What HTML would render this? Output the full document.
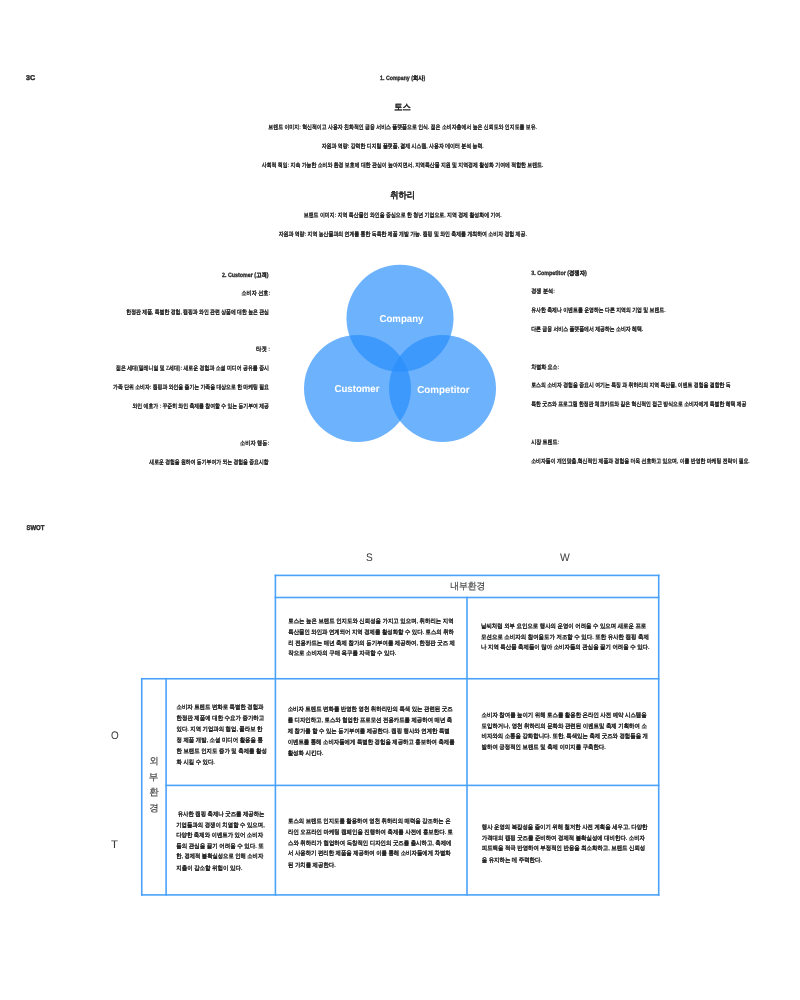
<!DOCTYPE html>
<html><head><meta charset="utf-8">
<style>
html,body{margin:0;padding:0;background:#fff;}
body{width:800px;height:1000px;position:relative;overflow:hidden;font-family:"Liberation Sans",sans-serif;}
#wrap{position:absolute;left:0;top:0;width:800px;height:1000px;will-change:transform;}
svg{position:absolute;left:0;top:0;}
text{font-family:"Liberation Sans",sans-serif;font-weight:bold;text-rendering:geometricPrecision;fill:#2a2a2a;stroke:#2a2a2a;stroke-width:0.03px;}
text.g{font-weight:normal;fill:#3c3c3c;stroke:#3c3c3c;}
text.w{fill:#fff;stroke:#fff;}
</style></head><body>
<div id="wrap">
<svg width="800" height="1000" viewBox="0 0 800 1000">
<circle cx="400" cy="318.25" r="53.5" fill="rgba(40,142,252,0.68)"/>
<circle cx="357.5" cy="388.5" r="53.5" fill="rgba(40,142,252,0.68)"/>
<circle cx="442.5" cy="388.5" r="53.5" fill="rgba(40,142,252,0.68)"/>
<g fill="#4aa2fb">
<rect x="274.6" y="574.6" width="384.9" height="1.6"/>
<rect x="274.6" y="596.7" width="384.9" height="1.6"/>
<rect x="140.95" y="677.95" width="518.55" height="1.6"/>
<rect x="165.3" y="784.6" width="494.2" height="1.6"/>
<rect x="140.95" y="894.1" width="518.55" height="1.6"/>
<rect x="140.95" y="677.95" width="1.6" height="217.75"/>
<rect x="165.3" y="677.95" width="1.6" height="217.75"/>
<rect x="274.6" y="574.6" width="1.6" height="321.1"/>
<rect x="466.2" y="596.7" width="1.6" height="299"/>
<rect x="657.9" y="574.6" width="1.6" height="321.1"/>
</g>
<text id="c3" x="26.00" y="80.11" font-size="7.00" textLength="9.15" lengthAdjust="spacingAndGlyphs" style="stroke-width:0.41px;">3C</text>
<text id="co" x="380.11" y="79.96" font-size="6.20" textLength="45.08" lengthAdjust="spacingAndGlyphs" style="stroke-width:0.31px;">1. Company (회사)</text>
<text id="toss" x="394.16" y="109.95" font-size="9.00" textLength="16.70" lengthAdjust="spacingAndGlyphs">토스</text>
<text id="t1" x="268.35" y="129.42" font-size="6.20" textLength="268.63" lengthAdjust="spacingAndGlyphs">브랜드 이미지: 혁신적이고 사용자 친화적인 금융 서비스 플랫폼으로 인식. 젊은 소비자층에서 높은 신뢰도와 인지도를 보유.</text>
<text id="t2" x="321.69" y="148.07" font-size="6.20" textLength="162.02" lengthAdjust="spacingAndGlyphs">자원과 역량: 강력한 디지털 플랫폼, 결제 시스템, 사용자 데이터 분석 능력.</text>
<text id="t3" x="261.81" y="166.92" font-size="6.20" textLength="281.50" lengthAdjust="spacingAndGlyphs">사회적 책임: 지속 가능한 소비와 환경 보호에 대한 관심이 높아지면서, 지역특산물 지원 및 지역경제 활성화 기여에 적합한 브랜드.</text>
<text id="chi" x="390.34" y="197.94" font-size="9.20" textLength="24.76" lengthAdjust="spacingAndGlyphs">취하리</text>
<text id="c1" x="303.76" y="217.32" font-size="6.20" textLength="197.91" lengthAdjust="spacingAndGlyphs">브랜드 이미지: 지역 특산물인 와인을 중심으로 한 청년 기업으로, 지역 경제 활성화에 기여.</text>
<text id="c2" x="278.64" y="236.21" font-size="6.20" textLength="248.15" lengthAdjust="spacingAndGlyphs">자원과 역량: 지역 농산물과의 연계를 통한 독특한 제품 개발 가능. 캠핑 및 와인 축제를 개최하여 소비자 경험 제공.</text>
<text id="l0" x="222.04" y="276.79" font-size="6.20" textLength="46.58" lengthAdjust="spacingAndGlyphs" style="stroke-width:0.31px;">2. Customer (고객)</text>
<text id="l1" x="241.51" y="295.06" font-size="6.20" textLength="28.64" lengthAdjust="spacingAndGlyphs">소비자 선호:</text>
<text id="l2" x="126.37" y="313.63" font-size="6.20" textLength="142.62" lengthAdjust="spacingAndGlyphs">한정판 제품, 특별한 경험, 캠핑과 와인 관련 상품에 대한 높은 관심</text>
<text id="l3" x="256.08" y="351.01" font-size="6.20" textLength="14.01" lengthAdjust="spacingAndGlyphs">타겟 :</text>
<text id="l4" x="115.98" y="369.92" font-size="6.20" textLength="153.00" lengthAdjust="spacingAndGlyphs">젊은 세대(밀레니얼 및 Z세대): 새로운 경험과 소셜 미디어 공유를 중시</text>
<text id="l5" x="113.09" y="388.91" font-size="6.20" textLength="155.91" lengthAdjust="spacingAndGlyphs">가족 단위 소비자: 캠핑과 와인을 즐기는 가족을 대상으로 한 마케팅 필요</text>
<text id="l6" x="132.51" y="407.96" font-size="6.20" textLength="136.44" lengthAdjust="spacingAndGlyphs">와인 애호가 : 꾸준히 와인 축제를 참여할 수 있는 동기부여 제공</text>
<text id="l7" x="240.06" y="445.19" font-size="6.20" textLength="29.07" lengthAdjust="spacingAndGlyphs">소비자 행동:</text>
<text id="l8" x="149.32" y="464.15" font-size="6.20" textLength="119.31" lengthAdjust="spacingAndGlyphs">새로운 경험을 원하여 동기부여가 되는 경험을 중요시함</text>
<text id="r0" x="531.23" y="274.71" font-size="6.20" textLength="55.65" lengthAdjust="spacingAndGlyphs" style="stroke-width:0.31px;">3. Competitor (경쟁자)</text>
<text id="r1" x="531.23" y="292.96" font-size="6.20" textLength="23.65" lengthAdjust="spacingAndGlyphs">경쟁 분석:</text>
<text id="r2" x="531.23" y="312.32" font-size="6.20" textLength="134.31" lengthAdjust="spacingAndGlyphs">유사한 축제나 이벤트를 운영하는 다른 지역의 기업 및 브랜드.</text>
<text id="r3" x="531.23" y="330.98" font-size="6.20" textLength="112.00" lengthAdjust="spacingAndGlyphs">다른 금융 서비스 플랫폼에서 제공하는 소비자 혜택.</text>
<text id="r4" x="531.23" y="368.95" font-size="6.20" textLength="27.96" lengthAdjust="spacingAndGlyphs">차별화 요소:</text>
<text id="r5" x="531.23" y="387.36" font-size="6.20" textLength="199.47" lengthAdjust="spacingAndGlyphs">토스의 소비자 경험을 중요시 여기는 특징 과 취하리의 지역 특산물, 이벤트 경험을 결합한 독</text>
<text id="r6" x="531.23" y="405.97" font-size="6.20" textLength="215.21" lengthAdjust="spacingAndGlyphs">특한 굿즈와 프로그램 한정판 체크카드와 같은 혁신적인 접근 방식으로 소비자에게 특별한 혜택 제공</text>
<text id="r7" x="531.23" y="443.95" font-size="6.20" textLength="28.04" lengthAdjust="spacingAndGlyphs">시장 트렌드:</text>
<text id="r8" x="531.23" y="462.71" font-size="6.20" textLength="218.51" lengthAdjust="spacingAndGlyphs">소비자들이 개인맞춤,혁신적인 제품과 경험을 더욱 선호하고 있으며, 이를 반영한 마케팅 전략이 필요.</text>
<text id="swot" x="26.43" y="530.34" font-size="7.00" textLength="17.93" lengthAdjust="spacingAndGlyphs" style="stroke-width:0.41px;">SWOT</text>
<text id="S" x="365.96" y="560.89" font-size="11.00" class="g" textLength="6.74" lengthAdjust="spacingAndGlyphs">S</text>
<text id="W" x="559.90" y="560.82" font-size="11.00" class="g" textLength="9.79" lengthAdjust="spacingAndGlyphs">W</text>
<text id="O" x="111.04" y="738.72" font-size="11.00" class="g" textLength="7.73" lengthAdjust="spacingAndGlyphs">O</text>
<text id="T" x="111.01" y="848.38" font-size="11.00" class="g" textLength="6.98" lengthAdjust="spacingAndGlyphs">T</text>
<text id="nb" x="450.14" y="589.28" font-size="9.50" class="g" textLength="35.32" lengthAdjust="spacingAndGlyphs" style="stroke-width:0.16px;">내부환경</text>
<text id="v0" x="149.37" y="763.81" font-size="9.50" class="g" style="stroke-width:0.16px;">외</text>
<text id="v1" x="148.72" y="780.04" font-size="9.50" class="g" style="stroke-width:0.16px;">부</text>
<text id="v2" x="149.36" y="794.58" font-size="9.50" class="g" style="stroke-width:0.16px;">환</text>
<text id="v3" x="149.28" y="810.85" font-size="9.50" class="g" style="stroke-width:0.16px;">경</text>
<text id="vco" x="379.54" y="322.39" font-size="10.00" class="w" textLength="43.87" lengthAdjust="spacingAndGlyphs">Company</text>
<text id="vcu" x="334.52" y="392.10" font-size="10.00" class="w" textLength="44.91" lengthAdjust="spacingAndGlyphs">Customer</text>
<text id="vcp" x="417.27" y="392.61" font-size="10.00" class="w" textLength="52.21" lengthAdjust="spacingAndGlyphs">Competitor</text>
<text id="xS0" x="288.27" y="623.27" font-size="6.20" textLength="165.34" lengthAdjust="spacingAndGlyphs">토스는 높은 브랜드 인지도와 신뢰성을 가지고 있으며, 취하리는 지역</text>
<text id="xS1" x="288.27" y="633.95" font-size="6.20" textLength="165.71" lengthAdjust="spacingAndGlyphs">특산물인 와인과 연계되어 지역 경제를 활성화할 수 있다. 토스의 취하</text>
<text id="xS2" x="288.27" y="644.64" font-size="6.20" textLength="166.76" lengthAdjust="spacingAndGlyphs">리 전용카드는 매년 축제 참가의 동기부여를 제공하여, 한정판 굿즈 제</text>
<text id="xS3" x="288.27" y="654.81" font-size="6.20" textLength="108.10" lengthAdjust="spacingAndGlyphs">작으로 소비자의 구매 욕구를 자극할 수 있다.</text>
<text id="xW0" x="481.04" y="627.89" font-size="6.20" textLength="165.23" lengthAdjust="spacingAndGlyphs">날씨처럼 외부 요인으로 행사의 운영이 어려울 수 있으며 새로운 프로</text>
<text id="xW1" x="481.04" y="638.93" font-size="6.20" textLength="167.84" lengthAdjust="spacingAndGlyphs">모션으로 소비자의 참여율도가 저조할 수 있다. 또한 유사한 캠핑 축제</text>
<text id="xW2" x="481.04" y="649.35" font-size="6.20" textLength="168.46" lengthAdjust="spacingAndGlyphs">나 지역 특산물 축제들이 많아 소비자들의 관심을 끌기 어려울 수 있다.</text>
<text id="xO0" x="176.53" y="709.26" font-size="6.20" textLength="86.96" lengthAdjust="spacingAndGlyphs">소비자 트렌드 변화로 특별한 경험과</text>
<text id="xO1" x="176.53" y="719.85" font-size="6.20" textLength="87.74" lengthAdjust="spacingAndGlyphs">한정판 제품에 대한 수요가 증가하고</text>
<text id="xO2" x="176.53" y="730.85" font-size="6.20" textLength="85.91" lengthAdjust="spacingAndGlyphs">있다. 지역 기업과의 협업, 콜라보 한</text>
<text id="xO3" x="176.53" y="741.68" font-size="6.20" textLength="86.32" lengthAdjust="spacingAndGlyphs">정 제품 개발, 소셜 미디어 활용을 통</text>
<text id="xO4" x="176.53" y="752.68" font-size="6.20" textLength="90.32" lengthAdjust="spacingAndGlyphs">한 브랜드 인지도 증가 및 축제를 활성</text>
<text id="xO5" x="176.53" y="763.68" font-size="6.20" textLength="38.36" lengthAdjust="spacingAndGlyphs">화 시킬 수 있다.</text>
<text id="xSO0" x="287.64" y="711.33" font-size="6.20" textLength="164.96" lengthAdjust="spacingAndGlyphs">소비자 트렌드 변화를 반영한 영천 취하리만의 특색 있는 관련된 굿즈</text>
<text id="xSO1" x="287.64" y="722.37" font-size="6.20" textLength="164.64" lengthAdjust="spacingAndGlyphs">를 디자인하고, 토스와 협업한 프로모션 전용카드를 제공하여 매년 축</text>
<text id="xSO2" x="287.64" y="732.79" font-size="6.20" textLength="162.10" lengthAdjust="spacingAndGlyphs">제 참가를 할 수 있는 동기부여를 제공한다. 캠핑 행사와 연계한 특별</text>
<text id="xSO3" x="287.64" y="744.09" font-size="6.20" textLength="167.04" lengthAdjust="spacingAndGlyphs">이벤트를 통해 소비자들에게 특별한 경험을 제공하고 홍보하여 축제를</text>
<text id="xSO4" x="287.64" y="754.95" font-size="6.20" textLength="35.86" lengthAdjust="spacingAndGlyphs">활성화 시킨다.</text>
<text id="xWO0" x="481.58" y="716.87" font-size="6.20" textLength="165.05" lengthAdjust="spacingAndGlyphs">소비자 참여를 높이기 위해 토스를 활용한 온라인 사전 예약 시스템을</text>
<text id="xWO1" x="481.58" y="727.87" font-size="6.20" textLength="165.25" lengthAdjust="spacingAndGlyphs">도입하거나, 영천 취하리의 문화와 관련된 이벤트및 축제 기획하여 소</text>
<text id="xWO2" x="481.58" y="738.49" font-size="6.20" textLength="166.43" lengthAdjust="spacingAndGlyphs">비자와의 소통을 강화합니다. 또한, 특색있는 축제 굿즈와 경험들을 개</text>
<text id="xWO3" x="481.58" y="749.30" font-size="6.20" textLength="124.22" lengthAdjust="spacingAndGlyphs">발하여 긍정적인 브랜드 및 축제 이미지를 구축한다.</text>
<text id="xT0" x="176.20" y="815.52" font-size="6.20" textLength="88.25" lengthAdjust="spacingAndGlyphs" xml:space="preserve"> 유사한 캠핑 축제나 굿즈를 제공하는</text>
<text id="xT1" x="176.20" y="826.75" font-size="6.20" textLength="88.47" lengthAdjust="spacingAndGlyphs">기업들과의 경쟁이 치열할 수 있으며,</text>
<text id="xT2" x="176.20" y="837.49" font-size="6.20" textLength="86.84" lengthAdjust="spacingAndGlyphs">다양한 축제와 이벤트가 있어 소비자</text>
<text id="xT3" x="176.20" y="847.82" font-size="6.20" textLength="87.63" lengthAdjust="spacingAndGlyphs">들의 관심을 끌기 어려울 수 있다. 또</text>
<text id="xT4" x="176.20" y="858.38" font-size="6.20" textLength="87.02" lengthAdjust="spacingAndGlyphs">한, 경제적 불확실성으로 인해 소비자</text>
<text id="xT5" x="176.20" y="869.83" font-size="6.20" textLength="66.36" lengthAdjust="spacingAndGlyphs">지출이 감소할 위험이 있다.</text>
<text id="xST0" x="288.03" y="823.24" font-size="6.20" textLength="162.57" lengthAdjust="spacingAndGlyphs">토스의 브랜드 인지도를 활용하여 영천 취하리의 매력을 강조하는 온</text>
<text id="xST1" x="288.03" y="833.99" font-size="6.20" textLength="165.00" lengthAdjust="spacingAndGlyphs">라인 오프라인 마케팅 캠페인을 진행하여 축제를 사전에 홍보한다. 토</text>
<text id="xST2" x="288.03" y="844.68" font-size="6.20" textLength="163.52" lengthAdjust="spacingAndGlyphs">스와 취하리가 협업하여 독창적인 디자인의 굿즈를 출시하고, 축제에</text>
<text id="xST3" x="288.03" y="855.38" font-size="6.20" textLength="162.67" lengthAdjust="spacingAndGlyphs">서 사용하기 편리한 제품을 제공하여 이를 통해 소비자들에게 차별화</text>
<text id="xST4" x="288.03" y="866.52" font-size="6.20" textLength="47.68" lengthAdjust="spacingAndGlyphs">된 가치를 제공한다.</text>
<text id="xWT0" x="481.78" y="829.28" font-size="6.20" textLength="165.65" lengthAdjust="spacingAndGlyphs">행사 운영의 복잡성을 줄이기 위해 철저한 사전 계획을 세우고, 다양한</text>
<text id="xWT1" x="481.78" y="839.55" font-size="6.20" textLength="163.27" lengthAdjust="spacingAndGlyphs">가격대의 캠핑 굿즈를 준비하여 경제적 불확실성에 대비한다. 소비자</text>
<text id="xWT2" x="481.78" y="850.22" font-size="6.20" textLength="163.45" lengthAdjust="spacingAndGlyphs">피드백을 적극 반영하여 부정적인 반응을 최소화하고, 브랜드 신뢰성</text>
<text id="xWT3" x="481.78" y="861.57" font-size="6.20" textLength="60.13" lengthAdjust="spacingAndGlyphs">을 유지하는 데 주력한다.</text>
</svg>
</div>
</body></html>
